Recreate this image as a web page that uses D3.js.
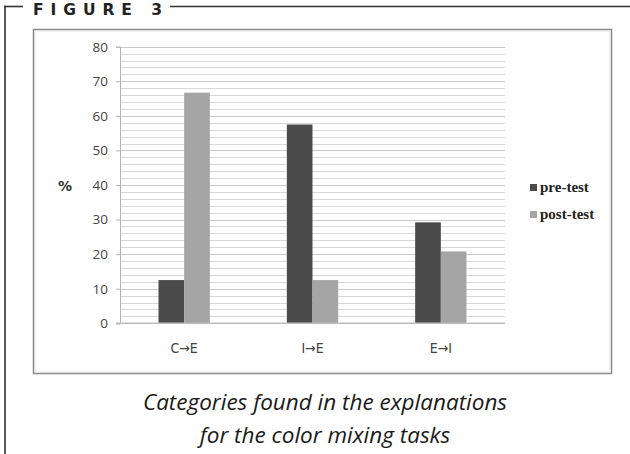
<!DOCTYPE html>
<html><head><meta charset="utf-8">
<script src="https://cdn.jsdelivr.net/npm/d3@7"></script>
<style>html,body{margin:0;padding:0;background:#fff;}svg{display:block;}</style>
</head><body>
<script>
const categories = ["C\u2192E", "I\u2192E", "E\u2192I"];
const seriesNames = ["pre-test", "post-test"];
const preTest = [12.5, 57.5, 29.2];
const postTest = [66.7, 12.5, 20.8];
const yTicks = [0, 10, 20, 30, 40, 50, 60, 70, 80];
const colors = ["#4b4b4b", "#a5a5a5"];

const W = 630, H = 454;
const svg = d3.select("body").append("svg").attr("width", W).attr("height", H);

// outer figure frame
svg.append("line").attr("x1", 4).attr("x2", 23).attr("y1", 6.5).attr("y2", 6.5).attr("stroke", "#333").attr("stroke-width", 1.6);
svg.append("line").attr("x1", 170).attr("x2", 630).attr("y1", 6.5).attr("y2", 6.5).attr("stroke", "#333").attr("stroke-width", 1.6);
svg.append("line").attr("x1", 5).attr("x2", 5).attr("y1", 5.7).attr("y2", H).attr("stroke", "#333").attr("stroke-width", 1.6);
svg.append("text").attr("x", 33).attr("y", 15)
  .attr("textLength", 129).attr("lengthAdjust", "spacing")
  .attr("font-family", "DejaVu Sans, sans-serif").attr("font-weight", "bold").attr("font-size", 15.5)
  .attr("fill", "#222").text("FIGURE 3");

// chart box
svg.append("rect").attr("x", 33.5).attr("y", 29.5).attr("width", 578).attr("height", 344)
  .attr("fill", "#fff").attr("stroke", "#8a8a8a").attr("stroke-width", 1.5);
svg.append("rect").attr("x", 35).attr("y", 31).attr("width", 575).attr("height", 341)
  .attr("fill", "none").attr("stroke", "#e4e4e4").attr("stroke-width", 1);

const plotL = 120, plotR = 505, plotT = 46.7, plotB = 323.3;
const y = d3.scaleLinear().domain([0, 80]).range([plotB, plotT]);
const x0 = d3.scaleBand().domain(categories).range([plotL, plotR]).paddingInner(0.6).paddingOuter(0.3);
const x1 = d3.scaleBand().domain(seriesNames).range([0, x0.bandwidth()]);

// gridlines every 2 units
const grid = d3.range(2, 81, 2);
svg.append("g").selectAll("line").data(grid).join("line")
  .attr("x1", plotL).attr("x2", plotR)
  .attr("y1", d => Math.round(y(d)) + 0.5).attr("y2", d => Math.round(y(d)) + 0.5)
  .attr("stroke", d => d % 10 === 0 ? "#c8c8c8" : "#d8d8d8").attr("stroke-width", 1.2);

// y axis
const yAxis = d3.axisLeft(y).tickValues(yTicks).tickSize(4).tickPadding(8);
const gy = svg.append("g").attr("transform", `translate(${plotL},0)`).call(yAxis);
gy.select(".domain").attr("stroke", "#b5b5b5");
gy.selectAll(".tick line").attr("stroke", "#b5b5b5");
gy.selectAll(".tick text").attr("font-family", "Open Sans, sans-serif").attr("font-size", 13.5).attr("fill", "#444");

// bars
const data = categories.map((c, i) => ({cat: c, vals: [preTest[i], postTest[i]]}));
const groups = svg.append("g").selectAll("g").data(data).join("g")
  .attr("transform", d => `translate(${x0(d.cat)},0)`);
groups.selectAll("rect").data(d => d.vals.map((v, j) => ({name: seriesNames[j], v, j}))).join("rect")
  .attr("x", d => x1(d.name)).attr("width", x1.bandwidth())
  .attr("y", d => y(d.v)).attr("height", d => y(0) - y(d.v))
  .attr("fill", d => colors[d.j]);

// baseline
svg.append("line").attr("x1", plotL - 4).attr("x2", plotR).attr("y1", plotB).attr("y2", plotB).attr("stroke", "#bdbdbd").attr("stroke-width", 1.5);

// x axis labels
const xAxis = d3.axisBottom(x0).tickSize(0).tickPadding(20);
const gx = svg.append("g").attr("transform", `translate(0,${plotB})`).call(xAxis);
gx.select(".domain").remove();
gx.selectAll(".tick text").attr("font-family", "DejaVu Sans Condensed, DejaVu Sans, sans-serif").attr("font-size", 14).attr("fill", "#444");

// % label
svg.append("text").attr("x", 65).attr("y", 191).attr("text-anchor", "middle")
  .attr("font-family", "DejaVu Sans, sans-serif").attr("font-weight", "bold").attr("font-size", 14)
  .attr("fill", "#333").text("%");

// legend
const leg = svg.append("g").selectAll("g").data(seriesNames).join("g")
  .attr("transform", (d, i) => `translate(530,${184 + i * 27})`);
leg.append("rect").attr("width", 7).attr("height", 7).attr("fill", (d, i) => colors[i]);
leg.append("text").attr("x", 10).attr("y", 8).attr("font-family", "Liberation Serif, serif")
  .attr("font-weight", "bold").attr("font-size", 15).attr("fill", "#222").text(d => d);

// caption
const cap = ["Categories found in the explanations", "for the color mixing tasks"];
svg.append("g").selectAll("text").data(cap).join("text")
  .attr("x", 325).attr("y", (d, i) => 410 + i * 33).attr("text-anchor", "middle")
  .attr("font-family", "Open Sans, sans-serif").attr("font-style", "italic").attr("font-size", 22.5)
  .attr("fill", "#1a1a1a").text(d => d);
</script>
</body></html>
